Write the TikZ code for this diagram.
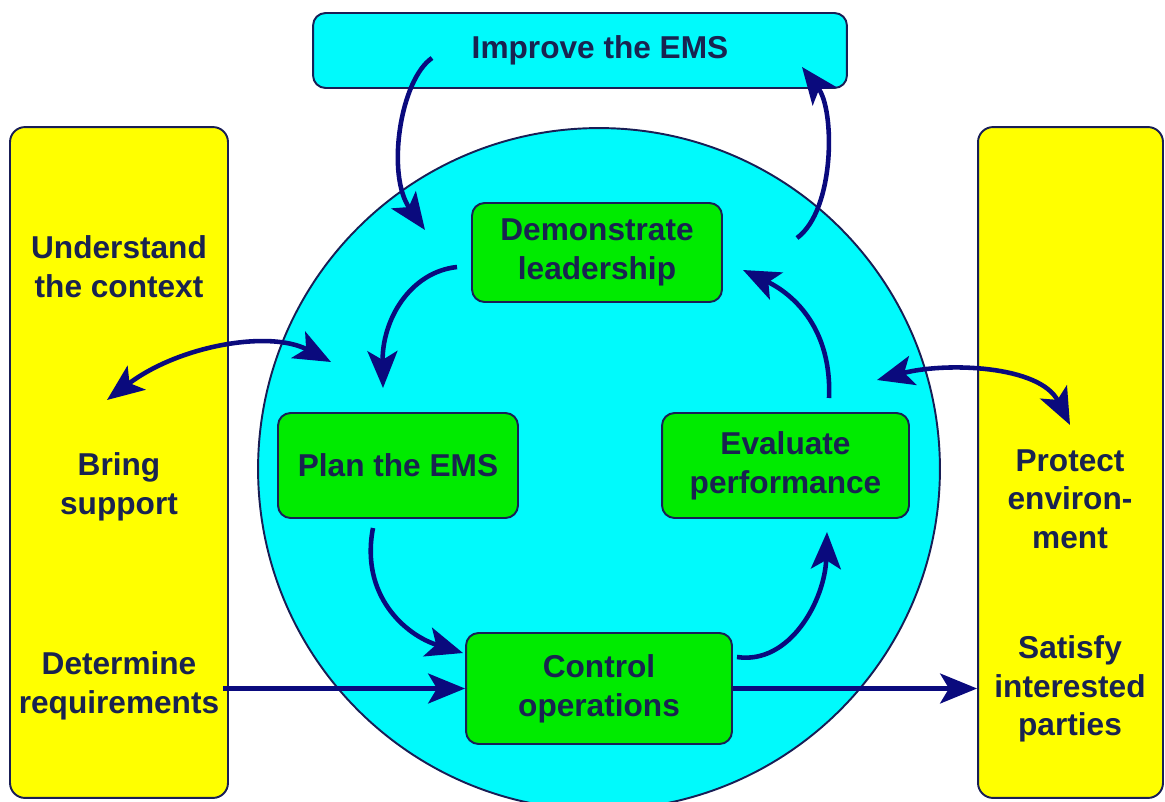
\documentclass[tikz,border=0pt]{standalone}
\usepackage{fontspec}
\setmainfont{Liberation Sans}
\usetikzlibrary{arrows.meta}
\definecolor{navy}{RGB}{10,10,125}
\definecolor{edge}{RGB}{25,30,85}
\definecolor{ink}{RGB}{25,35,80}
\definecolor{skyfill}{RGB}{0,250,252}
\definecolor{leaf}{RGB}{0,235,0}
\definecolor{sun}{RGB}{255,255,0}

\begin{document}
\begin{tikzpicture}[x=0.02cm, y=-0.02cm, >={Stealth[length=21pt,width=17pt,inset=5pt]},
    bar/.style={draw=edge, line width=1.1pt, fill=sun, rounded corners=0.3cm, inner sep=0pt},
    task/.style={draw=edge, line width=1.1pt, fill=leaf, rounded corners=0.25cm, inner sep=0pt, align=center, font=\fontsize{18}{22}\selectfont\bfseries, text=ink},
    lbl/.style={align=center, font=\fontsize{18}{22}\selectfont\bfseries, text=ink, inner sep=0pt},
    flow/.style={->, navy, line width=2.6pt}]
    \useasboundingbox (0,0) rectangle (1165,801);
    \clip (0,0) rectangle (1165,801);

    % side bars and the big circle
    \node[bar, minimum width=4.36cm, minimum height=13.42cm] (lbar) at (119,462.5) {};
    \node[bar, minimum width=3.7cm, minimum height=13.42cm] (rbar) at (1070.5,462.5) {};
    \node[circle, draw=edge, line width=1.1pt, fill=skyfill, minimum size=13.64cm, inner sep=0pt] (ring) at (599,469) {};
    \node[draw=edge, line width=1.1pt, fill=skyfill, rounded corners=0.25cm, minimum width=10.68cm, minimum height=1.5cm] (improve) at (580,50.5) {};
    \node[lbl] (imptxt) at (600,50) {Improve the EMS};

    % texts in the bars
    \node[lbl] (ctx) at (119,267) {Understand\\the context};
    \node[lbl] (sup) at (119,487) {Bring\\support};
    \node[lbl] (req) at (119,686) {Determine\\requirements};
    \node[lbl] (env) at (1070,499) {Protect\\environ-\\ment};
    \node[lbl] (par) at (1070,689) {Satisfy\\interested\\parties};

    % the four steps
    \node[task, minimum width=5cm, minimum height=1.98cm] (lead) at (597,252.5) {Demonstrate\\leadership};
    \node[task, minimum width=4.8cm, minimum height=2.1cm] (plan) at (398,465.5) {Plan the EMS};
    \node[task, minimum width=4.94cm, minimum height=2.1cm] (eval) at (785.5,465.5) {Evaluate\\performance};
    \node[task, minimum width=5.32cm, minimum height=2.22cm] (ctrl) at (599,688.5) {Control\\operations};

    \coordinate (impout) at (432,58);
    \coordinate (ringin) at (425,230);
    \coordinate (leadout) at (457,267);
    \coordinate (planin) at (383,388);
    \coordinate (ctxend) at (107,400);
    \coordinate (ringl) at (331,362);
    \coordinate (planout) at (373,528);
    \coordinate (ctrlin) at (463,653);
    \coordinate (ctrlout) at (737,657);
    \coordinate (evalin) at (827,532);
    \coordinate (evalout) at (829,398);
    \coordinate (leadin) at (743,270);
    \coordinate (leadup) at (797,238);
    \coordinate (impin) at (802,67);
    \coordinate (ringr) at (877,380);
    \coordinate (envend) at (1070,425);

    \draw[flow] (impout) .. controls (400,80) and (386,175) .. (ringin);
    \draw[flow] (leadout) .. controls (410,272) and (382,320) .. (planin);
    \draw[flow, <->] (ctxend) .. controls (180,345) and (270,330) .. (ringl);
    \draw[flow] (planout) .. controls (360,595) and (405,635) .. (ctrlin);
    \draw[flow] (ctrl.west -| lbar.east) ++(-6,0) -- (ctrl.west);
    \draw[flow] (ctrl.east) -- (ctrl.east -| rbar.west);
    \draw[flow] (ctrlout) .. controls (790,665) and (825,600) .. (evalin);
    \draw[flow] (evalout) .. controls (832,330) and (795,295) .. (leadin);
    \draw[flow] (leadup) .. controls (835,210) and (835,110) .. (impin);
    \draw[flow, <->] (ringr) .. controls (945,362) and (1040,365) .. (envend);
\end{tikzpicture}
\end{document}
